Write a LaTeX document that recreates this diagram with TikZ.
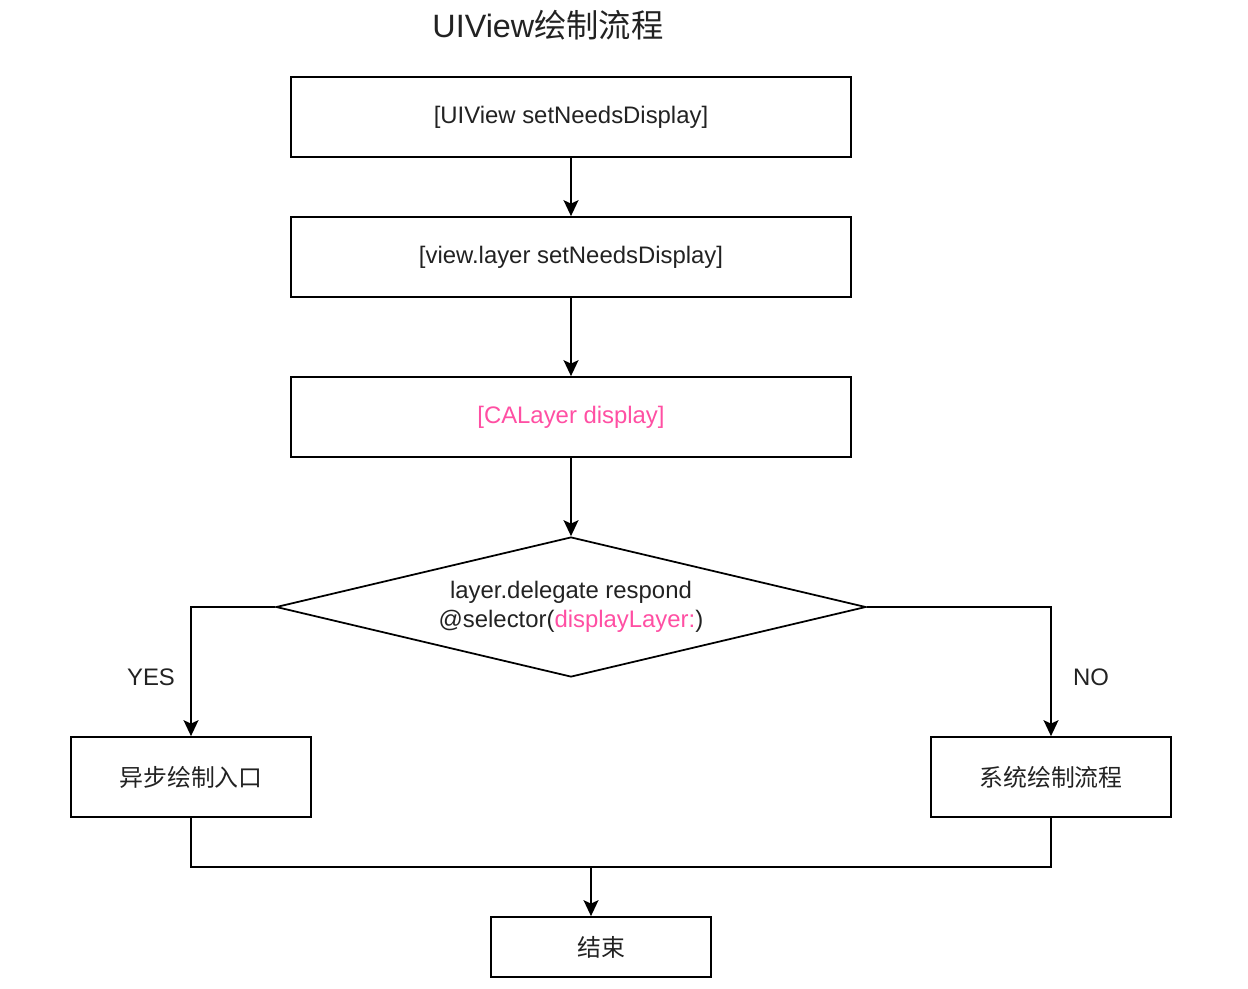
\documentclass[tikz,border=0pt]{standalone}
\usepackage{fontspec}
\setmainfont{Liberation Sans}
\newfontfamily\cjk{Noto Sans CJK SC}
\usetikzlibrary{shapes.geometric,arrows.meta}
\definecolor{ink}{HTML}{222222}
\definecolor{hot}{HTML}{FF4FA3}
\begin{document}
\begin{tikzpicture}[x=0.02cm,y=-0.02cm,
  every node/.style={text=ink,font=\fontsize{13.6}{16.2}\selectfont},
  box/.style={draw,rectangle,line width=1pt,minimum width=11.2cm,minimum height=1.6cm,inner sep=0},
  sidebox/.style={box,minimum width=4.8cm},
  ask/.style={draw,diamond,line width=1pt,minimum width=11.8cm,minimum height=2.8cm,inner sep=0,aspect=4.2,align=center},
  flow/.style={line width=1pt,-{Stealth[length=3.2mm,width=3mm,inset=0.7mm]}}]
\useasboundingbox (0,0) rectangle (1248,988);
\node[font=\fontsize{18.4}{21}\selectfont] (title) at (548,25) {UIView{\cjk 绘制流程}};
\node[box] (view) at (571,117) {[UIView setNeedsDisplay]};
\node[box] (layer) at (571,257) {[view.layer setNeedsDisplay]};
\node[box,text=hot] (disp) at (571,417) {[CALayer display]};
\node[ask] (ask) at (571,607) {layer.delegate respond\\[0.5pt]@selector({\color{hot}displayLayer:})};
\node[sidebox] (async) at (191,777) {\cjk 异步绘制入口};
\node[sidebox] (sys) at (1051,777) {\cjk 系统绘制流程};
\node[box,minimum width=4.4cm,minimum height=1.2cm] (done) at (601,947) {\cjk 结束};
\node (yes) at (151,677) {YES};
\node (no) at (1091,677) {NO};
\coordinate (join) at (591,867);
\path[draw,flow] (view) -- (layer);
\path[draw,flow] (layer) -- (disp);
\path[draw,flow] (disp) -- (ask);
\path[draw,flow] (ask.west) -| (async.north);
\path[draw,flow] (ask.east) -| (sys.north);
\path[draw,line width=1pt] (async.south) |- (join) -| (sys.south);
\path[draw,flow] (join) -- (join |- done.north);
\end{tikzpicture}
\end{document}
